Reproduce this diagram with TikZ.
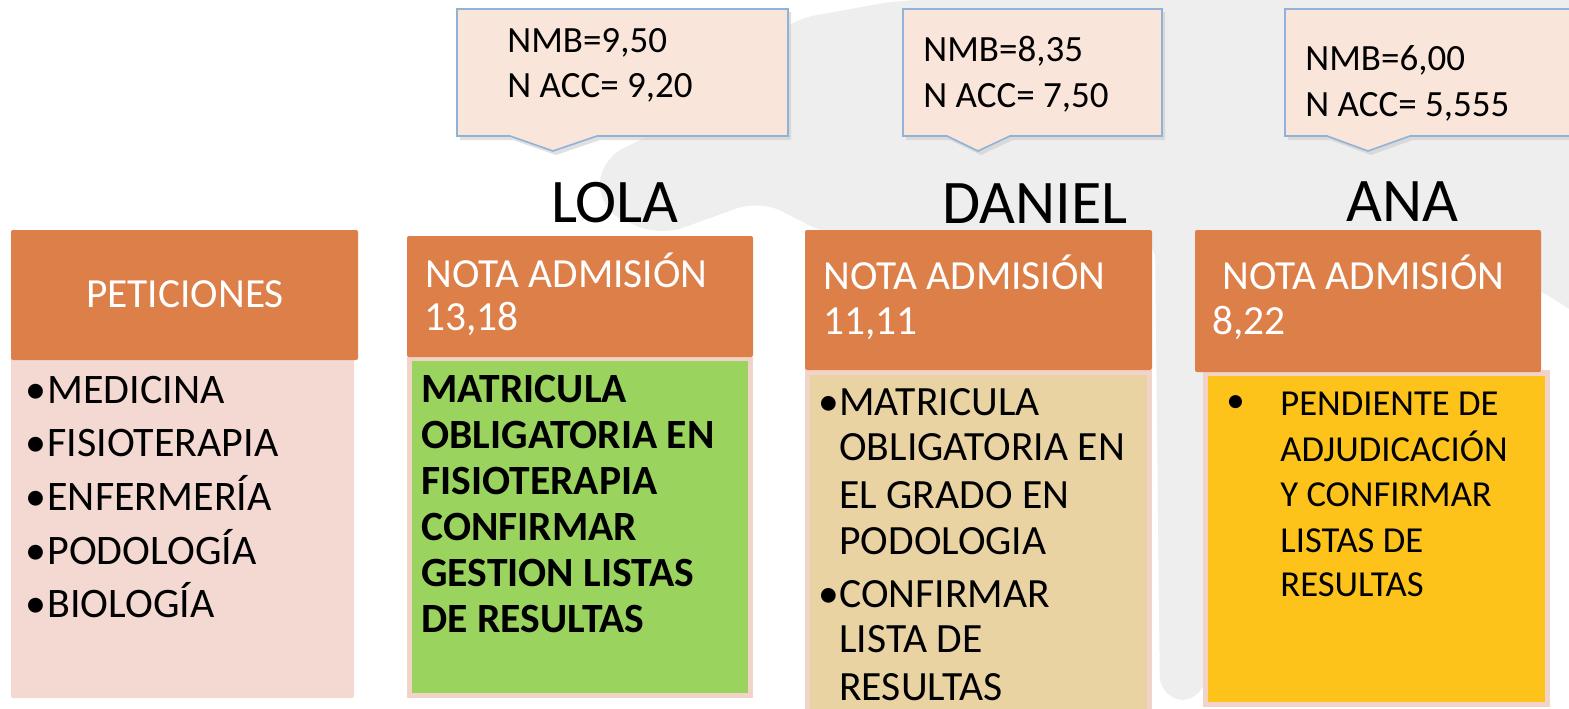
\documentclass[tikz,border=0pt]{standalone}
\usepackage{fontspec}
\setmainfont{Carlito}

\definecolor{headorange}{HTML}{DD7F48}
\definecolor{petpink}{HTML}{F4D9D2}
\definecolor{rimpink}{HTML}{F2D3C7}
\definecolor{calloutfill}{HTML}{F9E5DA}
\definecolor{calloutline}{HTML}{8FB2D8}
\definecolor{lolagreen}{HTML}{9BD35F}
\definecolor{danieltan}{HTML}{E9D3A3}
\definecolor{anayellow}{HTML}{FDC31A}
\definecolor{watergray}{HTML}{EEEEEE}

\tikzset{
	watermark/.style = {fill = watergray, rounded corners = 12pt},
	headbox/.style = {fill = headorange, rounded corners = 1pt},
	callout/.style = {fill = calloutfill, draw = calloutline, line width = 0.8pt},
	calloutshadow/.style = {fill = black!20, opacity = 0.6},
	headtext/.style = {anchor = base west, inner sep = 0pt, text = white, font = \fontsize{20.7}{24}\selectfont},
	bodytext/.style = {anchor = base west, inner sep = 0pt, font = \fontsize{20.8}{24}\selectfont},
	notetext/.style = {anchor = base west, inner sep = 0pt, font = \fontsize{18.5}{22}\selectfont},
	nametext/.style = {anchor = base, inner sep = 0pt, font = \fontsize{31}{36}\selectfont}
}

\begin{document}
\begin{tikzpicture}[x = 0.5pt, y = -0.5pt]

\useasboundingbox [fill = white] (0, 0) rectangle (1569, 708);

% Faint background map

\fill [watermark] (600, 160) -- (700, 110) -- (790, 20) -- (900, 0) -- (1600, 0) -- (1600, 330) -- (1541, 290) -- (1400, 236) -- (1215, 240) -- (1205, 700) -- (1160, 700) -- (1155, 236) -- (830, 236) -- (760, 200) -- (660, 236) -- (600, 210) -- cycle;

% Callouts with the two marks

\foreach \l/\r/\pa/\tip/\pb in {457/788/510/553/597, 903/1162/947/978/1010, 1285/1580/1327/1368/1410}
{
	\fill [calloutshadow] (\l + 3, 12) -- (\r + 3, 12) -- (\r + 3, 140) -- (\pb + 3, 140) -- (\tip + 3, 155) -- (\pa + 3, 140) -- (\l + 3, 140) -- cycle;
	\draw [callout] (\l, 9) -- (\r, 9) -- (\r, 136) -- (\pb, 136) -- (\tip, 151) -- (\pa, 136) -- (\l, 136) -- cycle;
}

\node [notetext] (lolanmb) at (507, 52) {NMB=9,50};
\node [notetext] (lolaacc) at (507, 97) {N ACC= 9,20};
\node [notetext] (danielnmb) at (923, 61) {NMB=8,35};
\node [notetext] (danielacc) at (923, 107) {N ACC= 7,50};
\node [notetext] (ananmb) at (1305, 70) {NMB=6,00};
\node [notetext] (anaacc) at (1305, 116) {N ACC= 5,555};

% Student names

\node [nametext] (lola) at (615, 222) {LOLA};
\node [nametext] (daniel) at (1035, 223) {DANIEL};
\node [nametext] (ana) at (1402, 221) {ANA};

% Column bodies

\fill [petpink, rounded corners = 1pt] (11, 356) rectangle (354, 698);
\fill [rimpink] (407, 357) rectangle (753, 698);
\fill [lolagreen] (412, 361) rectangle (748, 693);
\fill [rimpink] (805, 370) rectangle (1152, 712);
\fill [danieltan] (810, 375) rectangle (1147, 712);
\fill [rimpink] (1203, 370) rectangle (1550, 707);
\fill [anayellow] (1208, 376) rectangle (1545, 702);

% Column headers

\fill [headbox] (11, 230) rectangle (358, 360);
\fill [headbox] (407, 236) rectangle (753, 357);
\fill [headbox] (805, 230) rectangle (1152, 370);
\fill [headbox] (1195, 230) rectangle (1541, 372);

\node [headtext, anchor = base] (peticiones) at (185, 307) {PETICIONES};
\node [headtext] (lolanota) at (425, 287) {NOTA ADMISIÓN};
\node [headtext] (lolanum) at (424, 330) {13,18};
\node [headtext] (danielnota) at (823, 289) {NOTA ADMISIÓN};
\node [headtext] (danielnum) at (823, 334) {11,11};
\node [headtext] (ananota) at (1222, 289) {NOTA ADMISIÓN};
\node [headtext] (ananum) at (1212, 334) {8,22};

% Requested degrees

\foreach \t [count = \i] in {MEDICINA, FISIOTERAPIA, ENFERMERÍA, PODOLOGÍA, BIOLOGÍA}
{
	\node [bodytext, font = \fontsize{21}{24}\selectfont] (petbul\i) at (25, {403 + 53.7 * (\i - 1)}) {•};
	\node [bodytext, font = \fontsize{21}{24}\selectfont] (pet\i) at (47, {403 + 53.7 * (\i - 1)}) {\t};
}

% Lola

\foreach \t [count = \i] in {MATRICULA, OBLIGATORIA EN, FISIOTERAPIA, CONFIRMAR, GESTION LISTAS, DE RESULTAS}
{
	\node [bodytext, font = \bfseries\fontsize{20.8}{24}\selectfont] (lolaline\i) at (421, {402 + 46 * (\i - 1)}) {\t};
}

% Daniel

\node [bodytext] (danielbulA) at (818, 415) {•};
\node [bodytext] (danielbulB) at (818, 607) {•};
\foreach \t/\y [count = \i] in {MATRICULA/415, OBLIGATORIA EN/460, EL GRADO EN/508, PODOLOGIA/554, CONFIRMAR/607, LISTA DE/652, RESULTAS/700}
{
	\node [bodytext] (danielline\i) at (839, \y) {\t};
}

% Ana

\node [notetext] (anabul) at (1226, 412) {•};
\foreach \t/\y [count = \i] in {PENDIENTE DE/415, ADJUDICACIÓN/461, Y CONFIRMAR/506, LISTAS DE/552, RESULTAS/596}
{
	\node [notetext, font = \fontsize{18.3}{22}\selectfont] (analine\i) at (1280, \y) {\t};
}

\end{tikzpicture}
\end{document}
